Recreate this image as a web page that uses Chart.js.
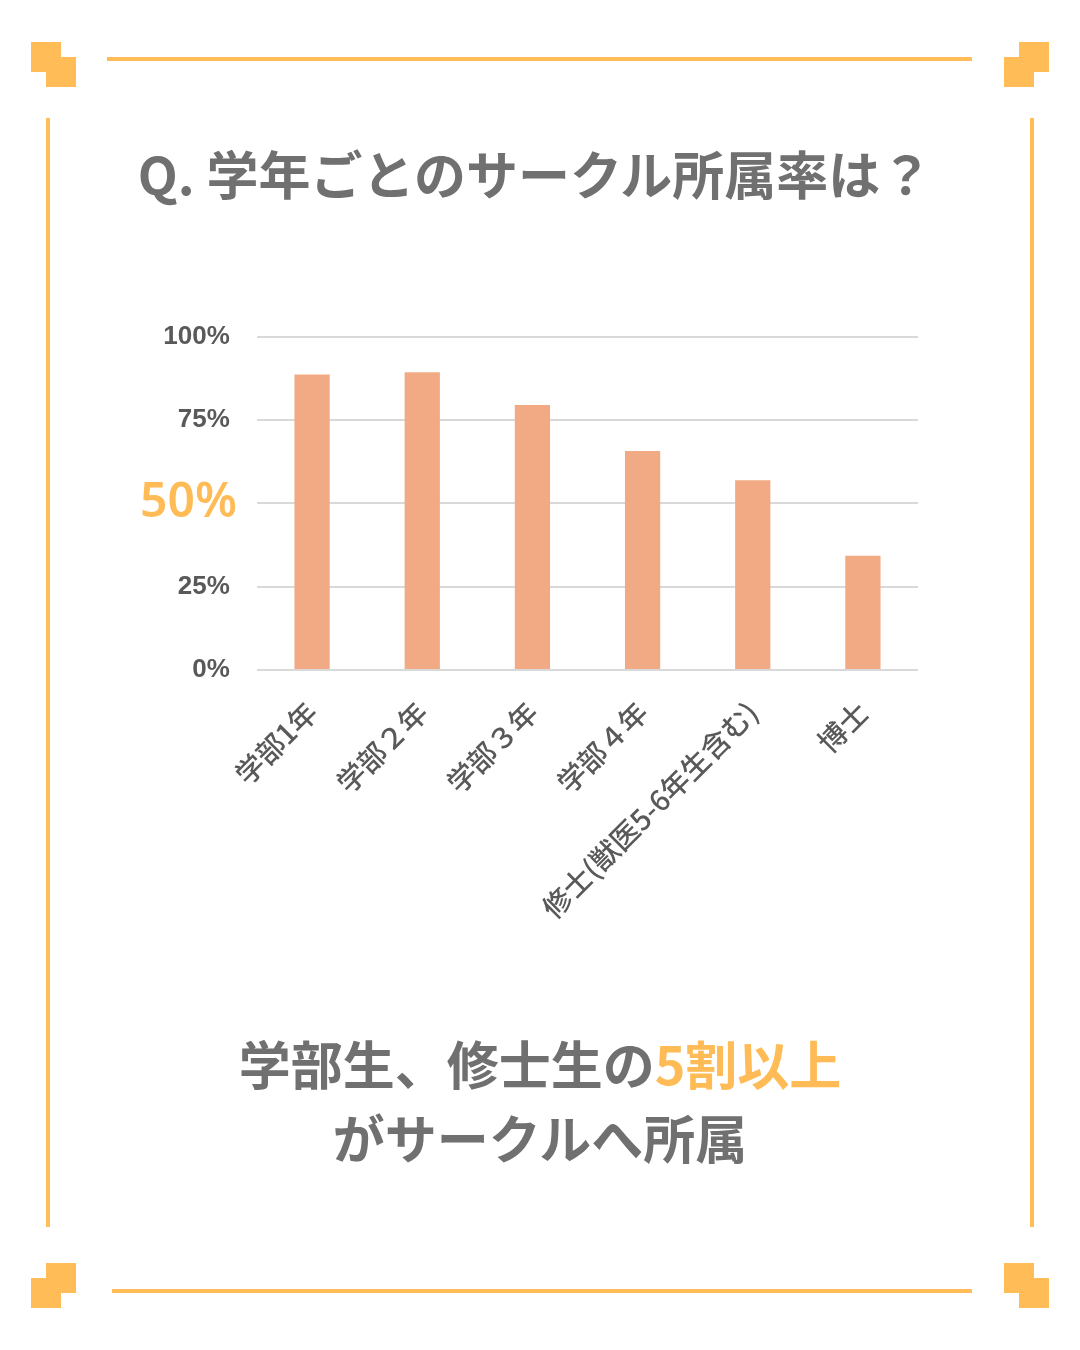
<!DOCTYPE html>
<html lang="ja">
<head>
<meta charset="utf-8">
<title>学年ごとのサークル所属率</title>
<script src="https://cdn.jsdelivr.net/npm/chart.js@4.4.1/dist/chart.umd.min.js"></script>
<style>
    html, body {
        margin: 0;
        padding: 0;
        background: #fff;
    }
    .page {
        position: relative;
        width: 1080px;
        height: 1350px;
        overflow: hidden;
        font-family: "Noto Sans CJK JP", "Noto Sans", sans-serif;
    }
    .line, .sq {
        position: absolute;
        background: #FFBC57;
    }
    .title {
        position: absolute;
        left: 0;
        width: 1070px;
        top: 137px;
        text-align: center;
        font-size: 52px;
        font-weight: 700;
        color: #707070;
        line-height: 72px;
    }
    .summary {
        position: absolute;
        left: 0;
        width: 1080px;
        top: 1026px;
        text-align: center;
        font-size: 52px;
        font-weight: 700;
        color: #707070;
        line-height: 74px;
    }
    .summary .hl {
        color: #FFBB55;
    }
    .chart-area {
        position: absolute;
        left: 130px;
        top: 301px;
        width: 800px;
        height: 679px;
    }
</style>
</head>
<body>
<div class="page">
    <!-- frame -->
    <div class="line" style="left:107px; top:57px; width:865px; height:4px;"></div>
    <div class="line" style="left:112px; top:1289px; width:860px; height:4px;"></div>
    <div class="line" style="left:46px; top:118px; width:4px; height:1109px;"></div>
    <div class="line" style="left:1030px; top:118px; width:4px; height:1109px;"></div>

    <!-- corner marks -->
    <div class="sq" style="left:31px; top:42px; width:30px; height:30px;"></div>
    <div class="sq" style="left:46px; top:57px; width:30px; height:30px;"></div>
    <div class="sq" style="left:1019px; top:42px; width:30px; height:30px;"></div>
    <div class="sq" style="left:1004px; top:57px; width:30px; height:30px;"></div>
    <div class="sq" style="left:46px; top:1263px; width:30px; height:30px;"></div>
    <div class="sq" style="left:31px; top:1278px; width:30px; height:30px;"></div>
    <div class="sq" style="left:1004px; top:1263px; width:30px; height:30px;"></div>
    <div class="sq" style="left:1019px; top:1278px; width:30px; height:30px;"></div>

    <div class="title">Q. 学年ごとのサークル所属率は？</div>

    <div class="chart-area">
        <canvas id="circleChart"></canvas>
    </div>

    <div class="summary">
        学部生、修士生の<span class="hl">5割以上</span><br>がサークルへ所属
    </div>
</div>

<script>
// Data
const grades = ['学部1年', '学部２年', '学部３年', '学部４年', '修士(獣医5-6年生含む)', '博士'];
const rates = [88.6, 89.3, 79.5, 65.7, 56.9, 34.3];
const yTicks = [0, 25, 50, 75, 100];
const highlightTick = 50;

const ctx = document.getElementById('circleChart');
Chart.defaults.animation = false;

new Chart(ctx, {
    type: 'bar',
    data: {
        labels: grades,
        datasets: [{
            label: 'サークル所属率',
            data: rates,
            backgroundColor: '#F1AA84',
            borderWidth: 0,
            categoryPercentage: 1.0,
            barPercentage: 0.32
        }]
    },
    options: {
        responsive: true,
        maintainAspectRatio: false,
        layout: {
            padding: { top: 18, right: 12, left: 0, bottom: 0 }
        },
        plugins: {
            legend: { display: false },
            tooltip: { enabled: false }
        },
        scales: {
            x: {
                grid: { display: false },
                border: { display: false },
                ticks: {
                    minRotation: 45,
                    maxRotation: 45,
                    autoSkip: false,
                    padding: 17,
                    color: '#595959',
                    font: {
                        family: '"Noto Sans CJK JP", sans-serif',
                        size: 28.5,
                        weight: '500'
                    }
                },
                afterFit: function(scale) {
                    scale.height = 310;
                }
            },
            y: {
                min: 0,
                max: 100,
                afterBuildTicks: function(scale) {
                    scale.ticks = yTicks.map(v => ({ value: v }));
                },
                grid: {
                    color: '#D9D9D9',
                    lineWidth: 2,
                    drawTicks: false
                },
                border: { display: false },
                ticks: {
                    padding: 20,
                    callback: function(value) {
                        // trailing space pulls the small labels a bit left of the big 50%
                        return value === highlightTick ? value + '%' : value + '% ';
                    },
                    color: function(context) {
                        return context.tick && context.tick.value === highlightTick ? '#FFBB55' : '#595959';
                    },
                    font: function(context) {
                        if (context.tick && context.tick.value === highlightTick) {
                            return { family: '"Noto Sans", sans-serif', size: 48, weight: '600' };
                        }
                        return { family: '"Liberation Sans", Arial, sans-serif', size: 26, weight: 'bold' };
                    }
                },
                afterFit: function(scale) {
                    scale.width = 127;
                }
            }
        }
    }
});
</script>
</body>
</html>
